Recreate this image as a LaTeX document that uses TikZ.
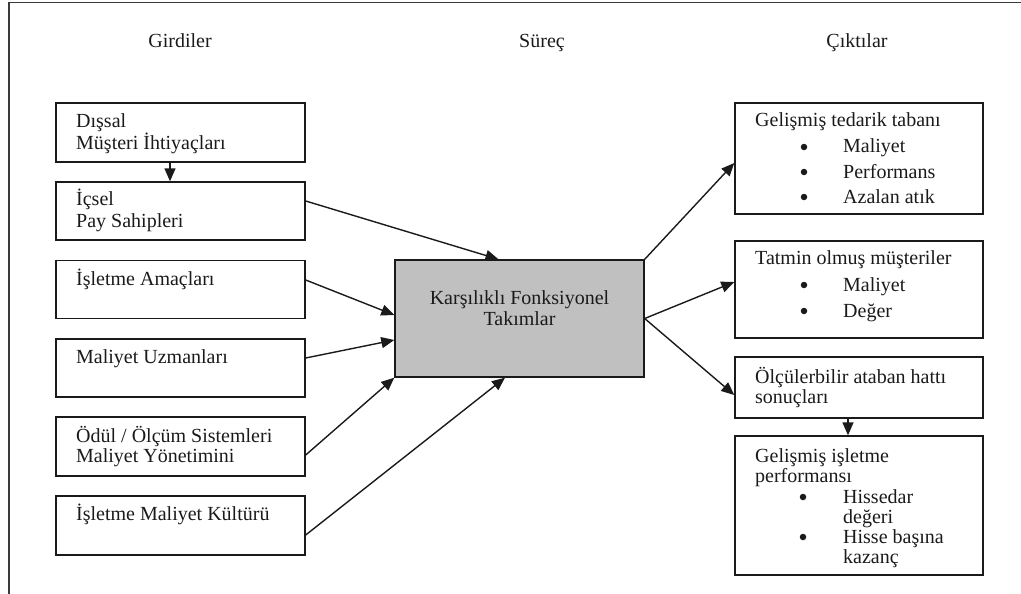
\documentclass[tikz,border=0pt]{standalone}
\usepackage{fontspec}
\setmainfont{Liberation Serif}
\usetikzlibrary{arrows.meta}
\definecolor{ink}{HTML}{1A1A1A}
\definecolor{framegray}{HTML}{3A3A3A}
\definecolor{teamgray}{HTML}{C0C0C0}
\newcommand\diagfont{\fontsize{20}{22}\selectfont}
\begin{document}
\begin{tikzpicture}[x=1pt,y=-1pt,
  box/.style={draw=ink, line width=1.4pt, rectangle, inner sep=0pt},
  lbl/.style={anchor=base west, inner sep=0pt, text=ink, font=\diagfont},
  head/.style={anchor=base, inner sep=0pt, text=ink, font=\diagfont},
  dot/.style={circle, fill=ink, inner sep=0pt, minimum size=6.5pt},
  arr/.style={draw=ink, line width=1.4pt, -{Triangle[length=13pt,width=11pt]}}]
\useasboundingbox (0,0) rectangle (1021,594);

% outer frame
\draw[framegray, line width=1.8pt] (9,594) -- (9,2.5) -- (1021,2.5);

% column headings
\node[head] (hin)  at (180,48) {Girdiler};
\node[head] (hpro) at (542,48) {Süreç};
\node[head] (hout) at (857,48) {Çıktılar};

% input boxes
\node[box, minimum width=249pt, minimum height=59pt] (b1) at (180.5,132.5) {};
\node[box, minimum width=249pt, minimum height=58pt] (b2) at (180.5,211) {};
\node[box, minimum width=249pt, minimum height=58pt] (b3) at (180.5,289.5) {};
\node[box, minimum width=249pt, minimum height=58pt] (b4) at (180.5,368) {};
\node[box, minimum width=249pt, minimum height=59pt] (b5) at (180.5,446.5) {};
\node[box, minimum width=249pt, minimum height=59pt] (b6) at (180.5,525.5) {};

\node[lbl] (b1a) at (76,128) {Dışsal};
\node[lbl] (b1b) at (76,149) {Müşteri İhtiyaçları};
\node[lbl] (b2a) at (76,205) {İçsel};
\node[lbl] (b2b) at (76,227) {Pay Sahipleri};
\node[lbl] (b3a) at (76,285) {İşletme Amaçları};
\node[lbl] (b4a) at (76,363) {Maliyet Uzmanları};
\node[lbl] (b5a) at (76,442) {Ödül / Ölçüm Sistemleri};
\node[lbl] (b5b) at (76,462) {Maliyet Yönetimini};
\node[lbl] (b6a) at (76,520) {İşletme Maliyet Kültürü};

% process box
\node[box, fill=teamgray, minimum width=249pt, minimum height=117pt] (c) at (519.5,318.5) {};
\node[head] (ca) at (519.5,304) {Karşılıklı Fonksiyonel};
\node[head] (cb) at (519.5,325) {Takımlar};

% output boxes
\node[box, minimum width=248pt, minimum height=111pt] (r1) at (859,158.5) {};
\node[box, minimum width=248pt, minimum height=97pt]  (r2) at (859,289.5) {};
\node[box, minimum width=248pt, minimum height=61pt]  (r3) at (859,387.5) {};
\node[box, minimum width=248pt, minimum height=139pt] (r4) at (859,505.5) {};

\node[lbl] (r1t) at (755,127) {Gelişmiş tedarik tabanı};
\node[dot] (r1d1) at (804,147) {};
\node[lbl] (r1i1) at (843,153) {Maliyet};
\node[dot] (r1d2) at (804,172) {};
\node[lbl] (r1i2) at (843,178) {Performans};
\node[dot] (r1d3) at (804,197) {};
\node[lbl] (r1i3) at (843,203) {Azalan atık};

\node[lbl] (r2t) at (755,264) {Tatmin olmuş müşteriler};
\node[dot] (r2d1) at (804,285) {};
\node[lbl] (r2i1) at (843,291) {Maliyet};
\node[dot] (r2d2) at (804,311) {};
\node[lbl] (r2i2) at (843,317) {Değer};

\node[lbl] (r3a) at (755,383) {Ölçülerbilir ataban hattı};
\node[lbl] (r3b) at (755,403) {sonuçları};

\node[lbl] (r4a) at (755,462) {Gelişmiş işletme};
\node[lbl] (r4b) at (755,482) {performansı};
\node[dot] (r4d1) at (803,497) {};
\node[lbl] (r4i1) at (843,503) {Hissedar};
\node[lbl] (r4i1b) at (843,523) {değeri};
\node[dot] (r4d2) at (803,537) {};
\node[lbl] (r4i2) at (843,543) {Hisse başına};
\node[lbl] (r4i2b) at (843,563) {kazanç};

% connectors
\draw[arr] ([xshift=-10.5pt]b1.south) -- ([xshift=-10.5pt]b2.north);
\draw[arr] ([yshift=10pt]b2.east) -- ([xshift=-21pt]c.north);
\draw[arr] ([yshift=9.5pt]b3.east) -- ([yshift=3.5pt]c.west);
\draw[arr] ([yshift=10pt]b4.east) -- ([yshift=-21.5pt]c.west);
\draw[arr] ([yshift=-8.5pt]b5.east) -- (c.south west);
\draw[arr] ([yshift=-9.5pt]b6.east) -- ([xshift=-14.5pt]c.south);
\draw[arr] (c.north east) -- ([yshift=-4.5pt]r1.west);
\draw[arr] (c.east) -- ([yshift=7.5pt]r2.west);
\draw[arr] (c.east) -- ([yshift=-7.5pt]r3.west);
\draw[arr] ([xshift=-11pt]r3.south) -- ([xshift=-11pt]r4.north);
\end{tikzpicture}
\end{document}
